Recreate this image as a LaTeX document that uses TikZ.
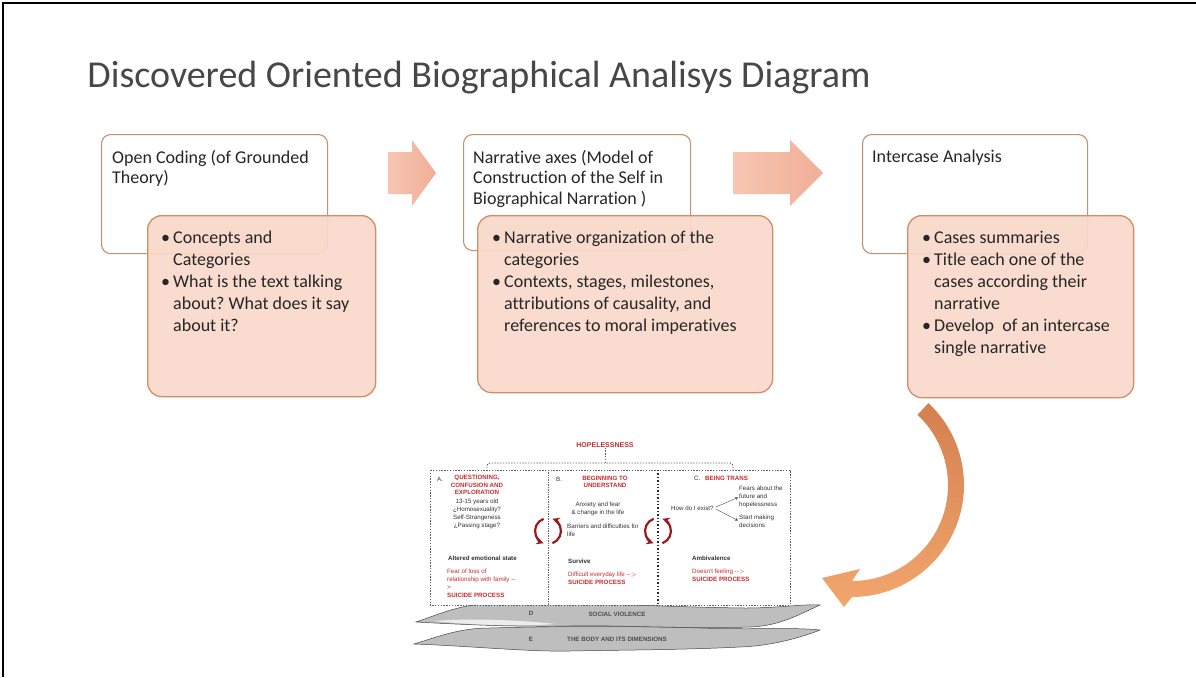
\documentclass[tikz,border=0pt]{standalone}
\usepackage{fontspec}
\setmainfont{Carlito}[Ligatures=NoCommon]
\newfontfamily\figfont{Liberation Sans}
\usepackage{tikz}
\usetikzlibrary{arrows, positioning}

\definecolor{boxline}{RGB}{198,144,108}
\definecolor{notefill}{RGB}{249,217,203}
\definecolor{noteline}{RGB}{208,142,102}
\definecolor{steplight}{RGB}{246,198,178}
\definecolor{stepdark}{RGB}{241,174,150}
\definecolor{loopdark}{RGB}{212,128,80}
\definecolor{looplight}{RGB}{242,166,108}
\definecolor{casered}{RGB}{196,44,48}
\definecolor{cycred}{RGB}{150,26,30}
\definecolor{bandgray}{RGB}{190,190,190}

% bullet and hanging indent for the note boxes
\newcommand{\bul}{\makebox[12pt][l]{\textbullet}}
\newcommand{\ind}{\hspace*{12pt}}

\begin{document}
\frenchspacing
\begin{tikzpicture}[
    x=1pt, y=-1pt,
    headbox/.style={draw=boxline, line width=1.1pt, fill=white, rounded corners=9pt, anchor=north west, inner sep=0},
    headtext/.style={anchor=north west, align=left, inner sep=0, font=\fontsize{18}{20.5}\selectfont, text=black!85},
    notebox/.style={draw=noteline, line width=1.3pt, fill=notefill, fill opacity=0.93, rounded corners=14pt, anchor=north west, inner sep=0},
    notetext/.style={anchor=north west, align=left, inner sep=0, font=\fontsize{18}{22}\selectfont, text=black!85},
    fig/.style={inner sep=0, align=center, font=\figfont\fontsize{6.2}{7.8}\selectfont, text=black!80},
    figred/.style={fig, text=casered},
    figbold/.style={fig, font=\figfont\bfseries\fontsize{6.2}{7.4}\selectfont},
    framedash/.style={draw=gray!75!black, line width=0.9pt, dash pattern=on 1.4pt off 1.4pt},
    cyc/.style={draw=cycred, line width=2.2pt, ->, >=stealth},
    branch/.style={draw=black!70, line width=0.4pt, ->, >=stealth, shorten >=1pt, shorten <=2pt},
    band/.style={fill=bandgray, draw=gray!55!black, line width=0.5pt},
]
\useasboundingbox (0,0) rectangle (1196,677);

% frame
\draw[line width=1.6pt] (3,677) -- (3,3) -- (1196,3);

% Title
\node[anchor=base, inner sep=0, font=\fontsize{38}{44}\selectfont, text=black!72] (title) at (479,87) {Discovered Oriented Biographical Analisys Diagram};

% Open coding
\node[headbox, minimum width=226pt, minimum height=119pt] (codingbox) at (101,134) {};
\node[headtext] (codinglbl) at (112,150) {Open Coding (of Grounded\\Theory)};

% Narrative axes
\node[headbox, minimum width=227pt, minimum height=116pt] (axesbox) at (463,134) {};
\node[headtext] (axeslbl) at (473,150) {Narrative axes (Model of\\Construction of the Self in\\Biographical Narration )};

% Intercase analysis
\node[headbox, minimum width=225pt, minimum height=119pt] (interbox) at (862,134) {};
\node[headtext] (interlbl) at (872,150) {Intercase Analysis};

% step arrows
\shade[left color=steplight, right color=stepdark] (388,152) -- (412,152) -- (412,140) -- (436,173) -- (412,206) -- (412,194) -- (388,194) -- cycle;
\shade[left color=steplight, right color=stepdark] (733,152) -- (790,152) -- (790,140) -- (823,173) -- (790,206) -- (790,194) -- (733,194) -- cycle;

% note boxes
\node[notebox, minimum width=228pt, minimum height=181pt] (codingnote) at (147,215) {};
\node[notetext] (codingitems) at (161,231) {\bul Concepts and\\\ind Categories\\\bul What is the text talking\\\ind about? What does it say\\\ind about it?};

\node[notebox, minimum width=295pt, minimum height=177pt] (axesnote) at (477,215) {};
\node[notetext] (axesitems) at (492,231) {\bul Narrative organization of the\\\ind categories\\\bul Contexts, stages, milestones,\\\ind attributions of causality, and\\\ind references to moral imperatives};

\node[notebox, minimum width=226pt, minimum height=182pt] (internote) at (907,215) {};
\node[notetext] (interitems) at (922,231) {\bul Cases summaries\\\bul Title each one of the\\\ind cases according their\\\ind narrative\\\bul Develop\ \ of an intercase\\\ind single narrative};

% loop back arrow
\begin{scope}[shift={(852,485)}]
\shade[top color=loopdark, bottom color=looplight]
    (-47:112) arc[start angle=-47, end angle=90, radius=112]
    -- (-8,122) -- (-30,93) -- (8,84)
    -- (90:96) arc[start angle=90, end angle=-47, radius=96] -- cycle;
\end{scope}

% bands under the figure
\path[band] (414,644) .. controls (440,636) and (460,628) .. (490,628) .. controls (560,626) and (640,626) .. (700,628) .. controls (760,630) and (790,627) .. (820,630) .. controls (800,638) and (770,646) .. (740,647) .. controls (680,650) and (620,650) .. (570,651) .. controls (530,652) and (470,646) .. cycle;
\path[band] (416,622) .. controls (440,614) and (460,604) .. (495,603) .. controls (560,601) and (660,607) .. (745,608) .. controls (780,608) and (800,604) .. (820,605) .. controls (800,614) and (780,626) .. (750,627) .. controls (690,629) and (620,625) .. (570,626) .. controls (520,627) and (470,625) .. cycle;
\fill[white!85!gray] (434,621) .. controls (470,618) and (520,620) .. (556,624) .. controls (520,626.5) and (470,625) .. cycle;
\node[figbold, text=black!70] (dlbl) at (531,613) {D};
\node[figbold, text=black!70] (dname) at (617,614) {SOCIAL VIOLENCE};
\node[figbold, text=black!70] (elbl) at (531,639) {E};
\node[figbold, text=black!70] (ename) at (617,639) {THE BODY AND ITS DIMENSIONS};

% stages frame
\draw[framedash, fill=white] (430,470) rectangle (790,605);
\draw[draw=black!60, line width=0.7pt, densely dotted] (548,470) -- (548,606);
\draw[draw=black!85, line width=1.3pt, dash pattern=on 1.4pt off 2pt] (658,470) -- (658,606);

% hopelessness bracket
\node[figbold, text=casered, font=\figfont\bfseries\fontsize{7}{8}\selectfont] (hope) at (605,445) {HOPELESSNESS};
\draw[framedash, rounded corners=3pt] (487,471) |- (733,463) -- (733,471);
\draw[framedash] (605,463) -- (hope.south);

% stage A
\node[fig, anchor=west] (alet) at (437,479) {A.};
\node[figbold, text=casered] (atitle) at (477,485) {QUESTIONING,\\CONFUSION AND\\EXPLORATION};
\node[fig] (abody) at (477,514) {13-15 years old\\¿Homosexuality?\\Self-Strangeness\\¿Passing stage?};
\node[figbold, anchor=west] (astate) at (448,558) {Altered emotional state};
\node[figred, anchor=north west, align=left] (arisk) at (447,569) {Fear of loss of\\relationship with family --\\>\\\textbf{SUICIDE PROCESS}};

% stage B
\node[fig, anchor=west] (blet) at (556,479) {B.};
\node[figbold, text=casered] (btitle) at (605,482) {BEGINNING TO\\UNDERSTAND};
\node[fig] (bbody) at (598,509) {Anxiety and fear\\\& change in the life};
\node[fig, anchor=north west, align=left] (bbar) at (567,524) {Barriers and difficulties for\\life};
\node[figbold, anchor=west] (bstate) at (568,561) {Survive};
\node[figred, anchor=north west, align=left] (brisk) at (568,572) {Difficult everyday life --$>$\\\textbf{SUICIDE PROCESS}};

% stage C
\node[fig, anchor=west] (clet) at (694,478) {C.};
\node[figbold, text=casered, anchor=west] (ctitle) at (705,478) {BEING TRANS};
\node[fig, anchor=west] (exist) at (671,508) {How do I exist?};
\node[fig, anchor=west, align=left] (fears) at (739,497) {Fears about the\\future and\\hopelessness};
\node[fig, anchor=west, align=left] (start) at (739,521) {Start making\\decisions};
\draw[branch] (exist.east) -- (fears.west);
\draw[branch] (exist.east) -- (start.west);
\node[figbold, anchor=west] (cstate) at (692,558) {Ambivalence};
\node[figred, anchor=north west, align=left] (crisk) at (692,569) {Doesn't feeling --$>$\\\textbf{SUICIDE PROCESS}};

% cycles between stages
\draw[cyc] (543.6,518.8) arc[start angle=250, end angle=110, radius=13];
\draw[cyc] (552.4,543.2) arc[start angle=70, end angle=-70, radius=13];
\draw[cyc] (653.6,518.8) arc[start angle=250, end angle=110, radius=13];
\draw[cyc] (662.4,543.2) arc[start angle=70, end angle=-70, radius=13];

\end{tikzpicture}
\end{document}
